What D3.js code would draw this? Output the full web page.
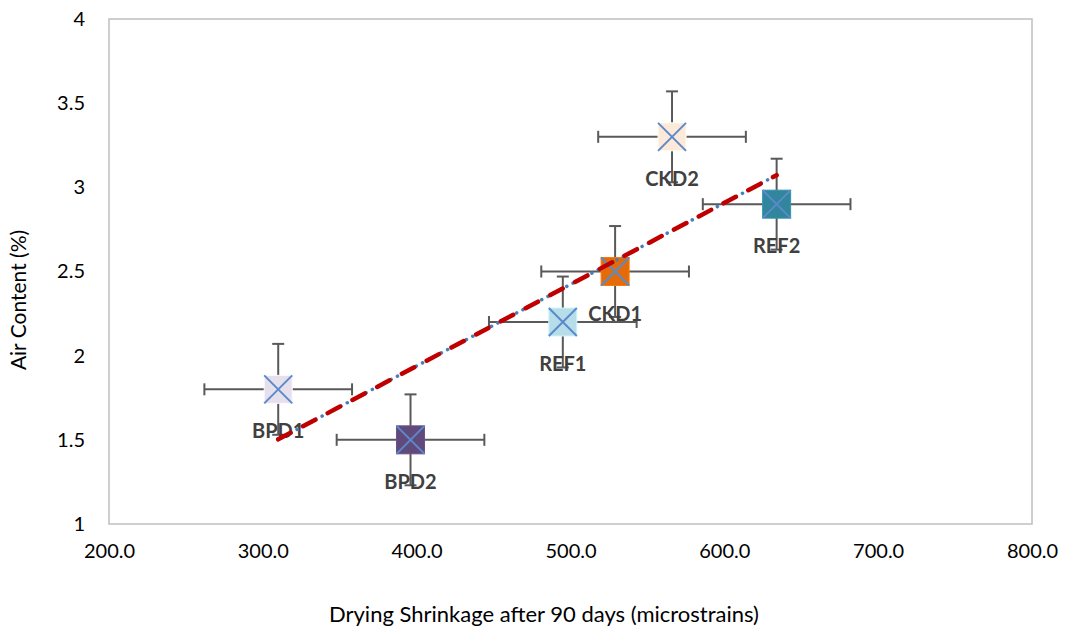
<!DOCTYPE html>
<html>
<head>
<meta charset="utf-8">
<script src="https://cdn.jsdelivr.net/npm/d3@7"></script>
<style>
  body { margin: 0; background: #fff; }
  text { font-family: Lato, "Open Sans", sans-serif; }
</style>
</head>
<body>
<div id="chart-area"></div>
<script>
const margin = {top: 19, right: 33, bottom: 106, left: 109};
const W = 1065, H = 630;
const width = W - margin.left - margin.right;
const height = H - margin.top - margin.bottom;

// data
const mixes = ['BPD1', 'BPD2', 'REF1', 'CKD1', 'CKD2', 'REF2'];
const shrinkage = [310, 396, 495, 529, 566, 634];
const airContent = [1.8, 1.5, 2.2, 2.5, 3.3, 2.9];
const shrinkageErr = [48, 48, 48, 48, 48, 48];
const airErr = [0.27, 0.27, 0.27, 0.27, 0.27, 0.27];
const fills = ['#E6E0EC', '#604A7B', '#B7DEE8', '#E36C09', '#FDE9D9', '#31859C'];

const xTicks = [200, 300, 400, 500, 600, 700, 800];
const yTicks = [1, 1.5, 2, 2.5, 3, 3.5, 4];

const data = mixes.map((m, i) => ({
  name: m, x: shrinkage[i], y: airContent[i],
  ex: shrinkageErr[i], ey: airErr[i], fill: fills[i]
}));

const svg = d3.select('#chart-area').append('svg')
  .attr('width', W).attr('height', H);
const g = svg.append('g')
  .attr('transform', `translate(${margin.left},${margin.top})`);

const xScale = d3.scaleLinear().domain([200, 800]).range([0, width]);
const yScale = d3.scaleLinear().domain([1, 4]).range([height, 0]);

// plot frame
g.append('rect')
  .attr('width', width).attr('height', height)
  .attr('fill', 'none').attr('stroke', '#BFBFBF').attr('stroke-width', 1.5);

// axes (labels only, no lines)
const xAxis = g.append('g')
  .attr('transform', `translate(0,${height})`)
  .call(d3.axisBottom(xScale).tickValues(xTicks).tickFormat(d3.format('.1f')).tickSize(0).tickPadding(20));
const yAxis = g.append('g')
  .call(d3.axisLeft(yScale).tickValues(yTicks).tickFormat(d => d).tickSize(0).tickPadding(24));
[xAxis, yAxis].forEach(a => {
  a.select('.domain').remove();
  a.selectAll('text').attr('font-size', 20).attr('fill', '#000')
    .style('font-family', 'Lato, sans-serif');
});

// error bars
const cap = 6;
const eb = g.append('g').attr('stroke', '#595959').attr('stroke-width', 2);
data.forEach(d => {
  const cx = xScale(d.x), cy = yScale(d.y);
  const x0 = xScale(d.x - d.ex), x1 = xScale(d.x + d.ex);
  const y0 = yScale(d.y - d.ey), y1 = yScale(d.y + d.ey);
  eb.append('line').attr('x1', x0).attr('x2', x1).attr('y1', cy).attr('y2', cy);
  eb.append('line').attr('x1', x0).attr('x2', x0).attr('y1', cy - cap).attr('y2', cy + cap);
  eb.append('line').attr('x1', x1).attr('x2', x1).attr('y1', cy - cap).attr('y2', cy + cap);
  eb.append('line').attr('x1', cx).attr('x2', cx).attr('y1', y0).attr('y2', y1);
  eb.append('line').attr('x1', cx - cap).attr('x2', cx + cap).attr('y1', y0).attr('y2', y0);
  eb.append('line').attr('x1', cx - cap).attr('x2', cx + cap).attr('y1', y1).attr('y2', y1);
});

// labels under the markers
g.selectAll('text.lbl')
  .data(data).enter().append('text')
  .attr('class', 'lbl')
  .attr('x', d => xScale(d.x))
  .attr('y', d => yScale(d.y) + 49)
  .attr('text-anchor', 'middle')
  .attr('font-size', 20).attr('font-weight', 'bold')
  .attr('fill', '#404040')
  .text(d => d.name);

// markers
const s = 14;
const mk = g.selectAll('g.mk').data(data).enter().append('g')
  .attr('class', 'mk')
  .attr('transform', d => `translate(${xScale(d.x)},${yScale(d.y)})`);
mk.append('rect')
  .attr('x', -s).attr('y', -s).attr('width', 2 * s).attr('height', 2 * s)
  .attr('fill', d => d.fill)
  .attr('stroke', d => d3.color(d.fill).brighter(0.3)).attr('stroke-width', 1);
mk.append('path')
  .attr('d', `M${-s},${-s}L${s},${s}M${-s},${s}L${s},${-s}`)
  .attr('stroke', '#5B8ACB').attr('stroke-width', 2).attr('fill', 'none');

// linear trendline (least squares)
const xm = d3.mean(shrinkage), ym = d3.mean(airContent);
const slope = d3.sum(shrinkage, (x, i) => (x - xm) * (airContent[i] - ym)) /
              d3.sum(shrinkage, x => (x - xm) * (x - xm));
const xs = d3.extent(shrinkage);
const trend = xs.map(x => [x, ym + slope * (x - xm)]);
const line = d3.line().x(d => xScale(d[0])).y(d => yScale(d[1]));

g.append('path').datum(trend).attr('d', line)
  .attr('stroke', '#4A7EBB').attr('stroke-width', 3.5)
  .attr('stroke-dasharray', '0.1,7').attr('stroke-linecap', 'round')
  .attr('fill', 'none');
g.append('path').datum(trend).attr('d', line)
  .attr('stroke', '#C00000').attr('stroke-width', 4.5)
  .attr('stroke-dasharray', '14,14').attr('stroke-linecap', 'round')
  .attr('fill', 'none');

// axis titles
svg.append('text')
  .attr('x', 544).attr('y', 622)
  .attr('text-anchor', 'middle')
  .attr('font-size', 22).attr('fill', '#000')
  .text('Drying Shrinkage after 90 days (microstrains)');

svg.append('text')
  .attr('transform', 'translate(26,300) rotate(-90)')
  .attr('text-anchor', 'middle')
  .attr('font-size', 21).attr('fill', '#000')
  .text('Air Content (%)');
</script>
</body>
</html>
